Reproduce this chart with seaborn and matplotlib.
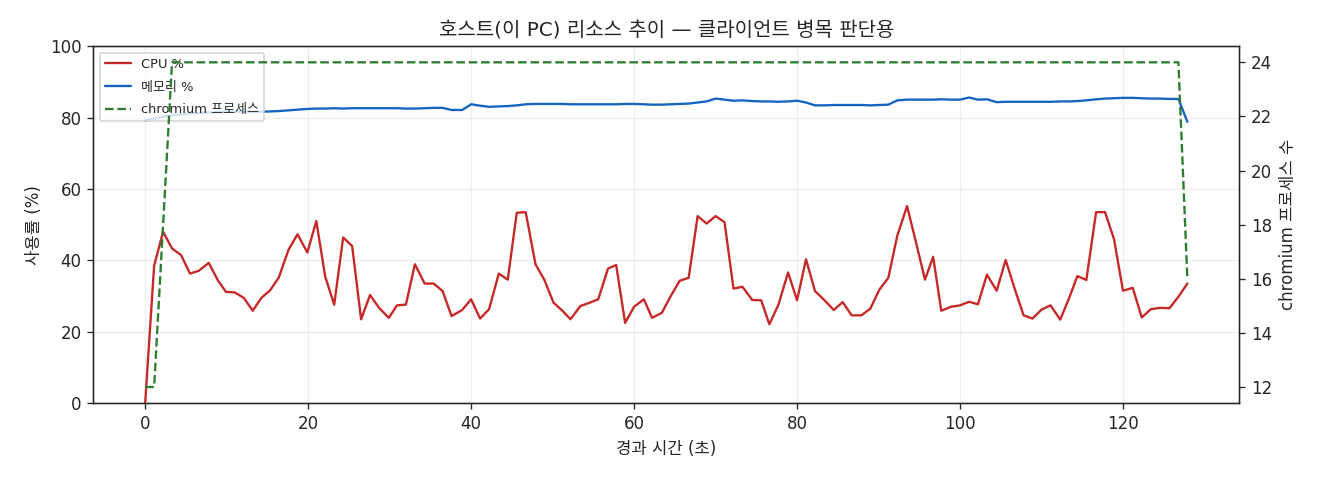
import numpy as np
import pandas as pd
import matplotlib
matplotlib.use("Agg")
import matplotlib.pyplot as plt
import seaborn as sns

# host resource trend (elapsed seconds, cpu %, memory %, chromium process count)
elapsed = [
    0.0, 1.1, 2.2, 3.3, 4.4, 5.5, 6.6, 7.8, 8.9, 9.9,
    11.0, 12.1, 13.2, 14.3, 15.3, 16.4, 17.6, 18.7, 19.9, 21.0,
    22.1, 23.2, 24.3, 25.4, 26.5, 27.6, 28.7, 29.9, 30.9, 32.0,
    33.1, 34.3, 35.4, 36.5, 37.6, 38.9, 40.0, 41.1, 42.2, 43.4,
    44.5, 45.6, 46.7, 47.9, 49.0, 50.1, 51.2, 52.2, 53.4, 54.5,
    55.6, 56.8, 57.8, 58.9, 60.0, 61.2, 62.2, 63.4, 64.5, 65.6,
    66.7, 67.8, 68.9, 70.0, 71.1, 72.2, 73.3, 74.5, 75.6, 76.6,
    77.7, 78.9, 80.0, 81.1, 82.2, 83.3, 84.5, 85.6, 86.7, 87.9,
    89.0, 90.1, 91.2, 92.3, 93.5, 94.6, 95.7, 96.7, 97.7, 98.9,
    100.0, 101.1, 102.2, 103.3, 104.5, 105.6, 106.7, 107.8, 108.9, 110.0,
    111.1, 112.3, 113.4, 114.4, 115.5, 116.7, 117.8, 118.9, 120.0, 121.2,
    122.3, 123.4, 124.5, 125.7, 126.8, 127.9,
]

cpu_pct = [
    0.0, 38.5, 48.0, 43.3, 41.5, 36.3, 37.1, 39.3, 34.5, 31.2,
    31.0, 29.5, 25.9, 29.6, 31.5, 35.2, 43.0, 47.3, 42.2, 51.0,
    35.4, 27.6, 46.4, 44.0, 23.5, 30.3, 26.7, 23.9, 27.4, 27.6,
    38.9, 33.5, 33.5, 31.4, 24.4, 26.1, 29.1, 23.7, 26.3, 36.3,
    34.6, 53.3, 53.5, 38.9, 34.5, 28.2, 25.9, 23.5, 27.2, 28.1,
    29.1, 37.7, 38.7, 22.5, 27.0, 29.1, 23.9, 25.3, 30.0, 34.3,
    35.1, 52.4, 50.3, 52.4, 50.7, 32.1, 32.6, 28.9, 28.8, 22.1,
    27.5, 36.6, 28.8, 40.3, 31.4, 29.0, 26.1, 28.3, 24.6, 24.6,
    26.5, 31.8, 35.1, 46.9, 55.2, 45.0, 34.6, 41.0, 25.9, 27.0,
    27.4, 28.4, 27.7, 36.0, 31.5, 40.1, 32.1, 24.6, 23.7, 26.2,
    27.4, 23.4, 29.5, 35.6, 34.5, 53.5, 53.5, 45.9, 31.5, 32.3,
    24.0, 26.3, 26.7, 26.6, 29.8, 33.5,
]

mem_pct = [
    79.2, 79.7, 80.2, 80.6, 80.9, 81.1, 81.3, 81.4, 81.5, 81.5,
    81.6, 81.6, 81.6, 81.6, 81.7, 81.8, 82.0, 82.2, 82.4, 82.5,
    82.5, 82.6, 82.5, 82.6, 82.6, 82.6, 82.6, 82.6, 82.6, 82.5,
    82.5, 82.6, 82.7, 82.7, 82.1, 82.1, 83.7, 83.3, 83.0, 83.1,
    83.2, 83.4, 83.7, 83.8, 83.8, 83.8, 83.8, 83.7, 83.7, 83.7,
    83.7, 83.7, 83.7, 83.8, 83.8, 83.7, 83.6, 83.6, 83.7, 83.8,
    83.9, 84.2, 84.5, 85.3, 85.0, 84.7, 84.8, 84.6, 84.5, 84.5,
    84.4, 84.5, 84.7, 84.2, 83.4, 83.4, 83.5, 83.5, 83.5, 83.5,
    83.4, 83.5, 83.6, 84.8, 85.0, 85.0, 85.0, 85.0, 85.1, 85.0,
    85.0, 85.6, 85.0, 85.1, 84.3, 84.4, 84.4, 84.4, 84.4, 84.4,
    84.4, 84.5, 84.5, 84.6, 84.8, 85.1, 85.3, 85.4, 85.5, 85.5,
    85.4, 85.3, 85.3, 85.2, 85.2, 78.8,
]

chromium_procs = [
    12, 12, 18, 24, 24, 24, 24, 24, 24, 24,
    24, 24, 24, 24, 24, 24, 24, 24, 24, 24,
    24, 24, 24, 24, 24, 24, 24, 24, 24, 24,
    24, 24, 24, 24, 24, 24, 24, 24, 24, 24,
    24, 24, 24, 24, 24, 24, 24, 24, 24, 24,
    24, 24, 24, 24, 24, 24, 24, 24, 24, 24,
    24, 24, 24, 24, 24, 24, 24, 24, 24, 24,
    24, 24, 24, 24, 24, 24, 24, 24, 24, 24,
    24, 24, 24, 24, 24, 24, 24, 24, 24, 24,
    24, 24, 24, 24, 24, 24, 24, 24, 24, 24,
    24, 24, 24, 24, 24, 24, 24, 24, 24, 24,
    24, 24, 24, 24, 24, 16,
]

df = pd.DataFrame({
    "t": elapsed,
    "cpu": cpu_pct,
    "mem": mem_pct,
    "chrome": chromium_procs,
})

sns.set_style("ticks")
# latin in dejavu (wide digits), hangul falls back to noto cjk
plt.rcParams["font.family"] = ["DejaVu Sans", "Noto Sans CJK KR"]
plt.rcParams["axes.unicode_minus"] = False

fig, ax = plt.subplots(figsize=(11, 4), dpi=120)
fig.subplots_adjust(left=0.0705, right=0.939, top=0.904, bottom=0.16)

sns.lineplot(data=df, x="t", y="cpu", ax=ax, color="#c62828", linewidth=1.4, label="CPU %")
sns.lineplot(data=df, x="t", y="mem", ax=ax, color="#1565c0", linewidth=1.4, label="메모리 %")

ax2 = ax.twinx()
sns.lineplot(data=df, x="t", y="chrome", ax=ax2, color="#2e7d32", linewidth=1.4,
             linestyle="--", label="chromium 프로세스")

ax.set_ylim(0, 100)
ax.set_yticks([0, 20, 40, 60, 80, 100])
ax.set_xticks([0, 20, 40, 60, 80, 100, 120])
ax2.set_yticks([12, 14, 16, 18, 20, 22, 24])
ax.grid(True, alpha=0.3)

ax.set_title("호스트(이 PC) 리소스 추이 — 클라이언트 병목 판단용", fontsize=12)
ax.set_xlabel("경과 시간 (초)", fontsize=10)
ax.set_ylabel("사용률 (%)", fontsize=10)
ax2.set_ylabel("chromium 프로세스 수", fontsize=10)
ax.tick_params(labelsize=10)
ax2.tick_params(labelsize=10)

# one legend for both axes
h1, l1 = ax.get_legend_handles_labels()
h2, l2 = ax2.get_legend_handles_labels()
ax2.get_legend().remove()
ax.legend(h1 + h2, l1 + l2, loc="upper left", fontsize=7.8, labelspacing=0.75,
          framealpha=0.8)

fig.savefig("out.png", dpi=120)
